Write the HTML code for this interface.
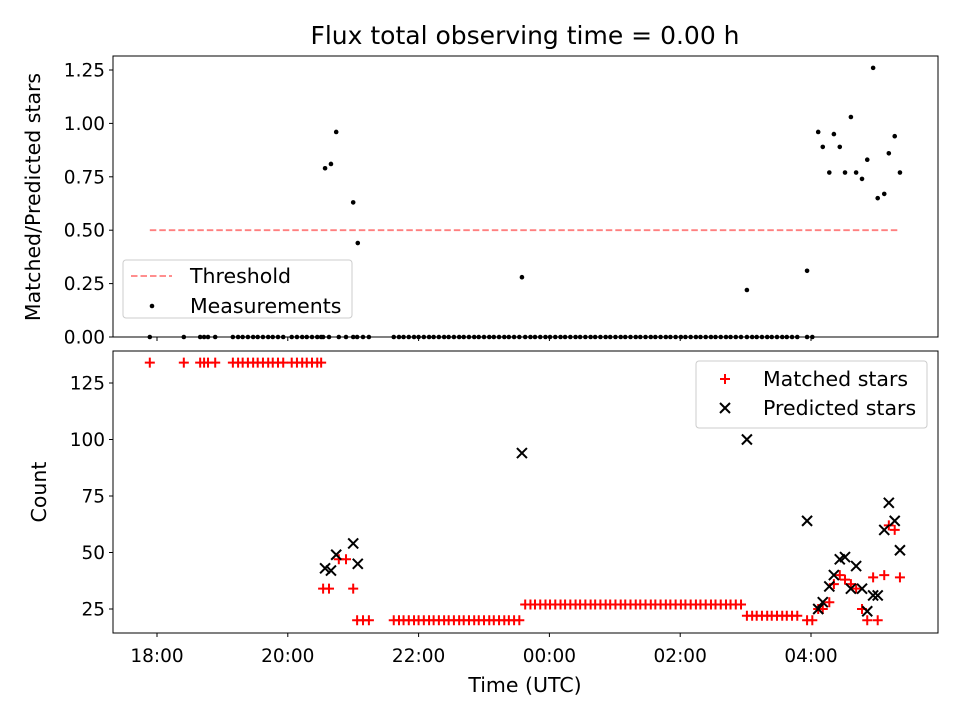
<!DOCTYPE html>
<html><head><meta charset="utf-8"><style>
body{margin:0;background:#fff}
svg text{font-family:"DejaVu Sans","Liberation Sans",sans-serif;fill:#000}
</style></head><body>
<svg id="c" width="960" height="720" xmlns="http://www.w3.org/2000/svg"></svg>
<script>
// times in hours (24+ = after midnight)
const matchedTimes=[17.89,18.41,18.66,18.72,18.78,18.89,19.16,19.24,19.31,19.39,19.47,19.54,19.62,19.70,19.77,19.85,19.93,20.06,20.14,20.22,20.29,20.37,20.45,20.51,
20.54,20.63,20.78,20.89,21.00,21.06,21.15,21.24,
21.62,21.70,21.77,21.85,21.93,22.00,22.08,22.16,22.23,22.31,22.39,22.46,22.54,22.62,22.69,22.77,22.85,22.92,23.00,23.08,23.15,23.23,23.31,23.38,23.46,23.54,
23.63,23.71,23.78,23.86,23.94,24.01,24.09,24.17,24.24,24.32,24.40,24.47,24.55,24.63,24.70,24.78,24.86,24.93,25.01,25.09,25.16,25.24,25.32,25.39,25.47,25.55,25.62,25.70,25.78,25.85,25.93,26.01,26.08,26.16,26.24,26.31,26.39,26.47,26.54,26.62,26.70,26.77,26.85,26.93,
27.02,27.10,27.17,27.25,27.33,27.40,27.48,27.56,27.63,27.71,27.79,27.94,28.02,
28.11,28.18,28.28,28.35,28.44,28.52,28.61,28.69,28.78,28.86,28.95,29.02,29.12,29.19,29.28,29.36];
const matchedValues=[134,134,134,134,134,134,134,134,134,134,134,134,134,134,134,134,134,134,134,134,134,134,134,134,
34,34,47,47,34,20,20,20,
20,20,20,20,20,20,20,20,20,20,20,20,20,20,20,20,20,20,20,20,20,20,20,20,20,20,
27,27,27,27,27,27,27,27,27,27,27,27,27,27,27,27,27,27,27,27,27,27,27,27,27,27,27,27,27,27,27,27,27,27,27,27,27,27,27,27,27,27,27,27,
22,22,22,22,22,22,22,22,22,22,22,20,20,
25,25,28,36,40,38,36,34,25,20,39,20,40,62,60,39];
const predictedTimes=[20.57,20.66,20.74,21.00,21.07,23.58,27.02,27.94,28.11,28.18,28.28,28.35,28.44,28.52,28.61,28.69,28.78,28.86,28.95,29.02,29.12,29.19,29.28,29.36];
const predictedValues=[43,42,49,54,45,94,100,64,25,28,35,40,47,48,34,44,34,24,31,31,60,72,64,51];
const ratioTimes=[20.57,20.66,20.74,21.00,21.07,23.58,27.02,27.94,28.11,28.18,28.28,28.35,28.44,28.52,28.61,28.69,28.78,28.86,28.95,29.02,29.12,29.19,29.28,29.36];
const ratioValues=[0.79,0.81,0.96,0.63,0.44,0.28,0.22,0.31,0.96,0.89,0.77,0.95,0.89,0.77,1.03,0.77,0.74,0.83,1.26,0.65,0.67,0.86,0.94,0.77];
const zeroRatioTimes=matchedTimes.filter(t=>t<28.05);
const xTicks=[18,20,22,24,26,28];
const xTickLabels=["18:00","20:00","22:00","00:00","02:00","04:00"];
const topTicks=[0,0.25,0.5,0.75,1.0,1.25];
const topTickLabels=["0.00","0.25","0.50","0.75","1.00","1.25"];
const botTicks=[25,50,75,100,125];
const threshold=0.5, thrStart=17.89, thrEnd=29.36;

const NS="http://www.w3.org/2000/svg";
const svg=document.getElementById('c');
function el(tag,attrs,parent){const e=document.createElementNS(NS,tag);for(const k in attrs)e.setAttribute(k,attrs[k]);(parent||svg).appendChild(e);return e;}
const L=113,R=938,T1=56,B1=337,T2=351,B2=633;
const x=t=>157+(t-18)*65.4;
const y1=v=>337-v*213.6;
const y2=v=>609-(v-25)*2.26;
const TF=18.5, LF=20.5;

let e;
e=el('text',{x:525,y:44,'font-size':25,'text-anchor':'middle'});e.textContent='Flux total observing time = 0.00 h';



// top panel
const g1=el('g',{});


e=el('line',{x1:x(thrStart),x2:x(thrEnd),y1:y1(threshold),y2:y1(threshold),stroke:'#ff7f7f','stroke-width':1.8,'stroke-dasharray':'6.5,3'},g1);


zeroRatioTimes.forEach(t=>{const c=el('circle',{cx:x(t),cy:y1(0),r:2.3,fill:'#000'},g1);

});
ratioTimes.forEach((t,i)=>{const c=el('circle',{cx:x(t),cy:y1(ratioValues[i]),r:2.3,fill:'#000'},g1);

});
e=el('rect',{x:L,y:T1,width:R-L,height:B1-T1,fill:'none',stroke:'#000','stroke-width':1},g1);


topTicks.forEach((v,i)=>{el('line',{x1:L-4,x2:L,y1:y1(v),y2:y1(v),stroke:'#000'},g1);
const t=el('text',{x:L-8,y:y1(v)+6.5,'font-size':TF,'text-anchor':'end'},g1);t.textContent=topTickLabels[i];

});
xTicks.forEach(t=>el('line',{x1:x(t),x2:x(t),y1:B1,y2:B1+4,stroke:'#000'},g1));
e=el('text',{x:0,y:0,'font-size':LF,'text-anchor':'middle',transform:'translate(40,197) rotate(-90)'},g1);e.textContent='Matched/Predicted stars';


// top legend
const lg1=el('g',{},g1);


el('rect',{x:123,y:260,width:229,height:58,rx:3,fill:'#fff',stroke:'#ccc'},lg1);
el('line',{x1:131,x2:172,y1:276,y2:276,stroke:'#ff7f7f','stroke-width':1.8,'stroke-dasharray':'6.5,3'},lg1);
e=el('text',{x:190,y:283,'font-size':LF},lg1);e.textContent='Threshold';
el('circle',{cx:152,cy:306,r:2.3,fill:'#000'},lg1);
e=el('text',{x:190,y:313,'font-size':LF},lg1);e.textContent='Measurements';

// bottom panel
const g2=el('g',{});


matchedTimes.forEach((t,i)=>{const cx=x(t),cy=y2(matchedValues[i]);
const p=el('path',{d:`M${cx-5},${cy}H${cx+5}M${cx},${cy-5}V${cy+5}`,stroke:'#f00','stroke-width':2},g2);

});
predictedTimes.forEach((t,i)=>{const cx=x(t),cy=y2(predictedValues[i]);
const p=el('path',{d:`M${cx-5},${cy-5}L${cx+5},${cy+5}M${cx-5},${cy+5}L${cx+5},${cy-5}`,stroke:'#000','stroke-width':2},g2);

});
e=el('rect',{x:L,y:T2,width:R-L,height:B2-T2,fill:'none',stroke:'#000','stroke-width':1},g2);


botTicks.forEach(v=>{el('line',{x1:L-4,x2:L,y1:y2(v),y2:y2(v),stroke:'#000'},g2);
const t=el('text',{x:L-8,y:y2(v)+6.5,'font-size':TF,'text-anchor':'end'},g2);t.textContent=String(v);

});
xTicks.forEach((t,i)=>{el('line',{x1:x(t),x2:x(t),y1:B2,y2:B2+4,stroke:'#000'},g2);
const tx=el('text',{x:x(t),y:B2+29,'font-size':TF,'text-anchor':'middle'},g2);tx.textContent=xTickLabels[i];

});
e=el('text',{x:525,y:692,'font-size':LF,'text-anchor':'middle'},g2);e.textContent='Time (UTC)';


e=el('text',{x:0,y:0,'font-size':LF,'text-anchor':'middle',transform:'translate(46,492) rotate(-90)'},g2);e.textContent='Count';


const lg2=el('g',{},g2);


el('rect',{x:696,y:361,width:231,height:67,rx:3,fill:'#fff',stroke:'#ccc'},lg2);
el('path',{d:'M720,379H730M725,374V384',stroke:'#f00','stroke-width':2},lg2);
e=el('text',{x:763,y:386,'font-size':LF},lg2);e.textContent='Matched stars';
el('path',{d:'M720,403L730,413M720,413L730,403',stroke:'#000','stroke-width':2},lg2);
e=el('text',{x:763,y:415,'font-size':LF},lg2);e.textContent='Predicted stars';
</script>
</body></html>
